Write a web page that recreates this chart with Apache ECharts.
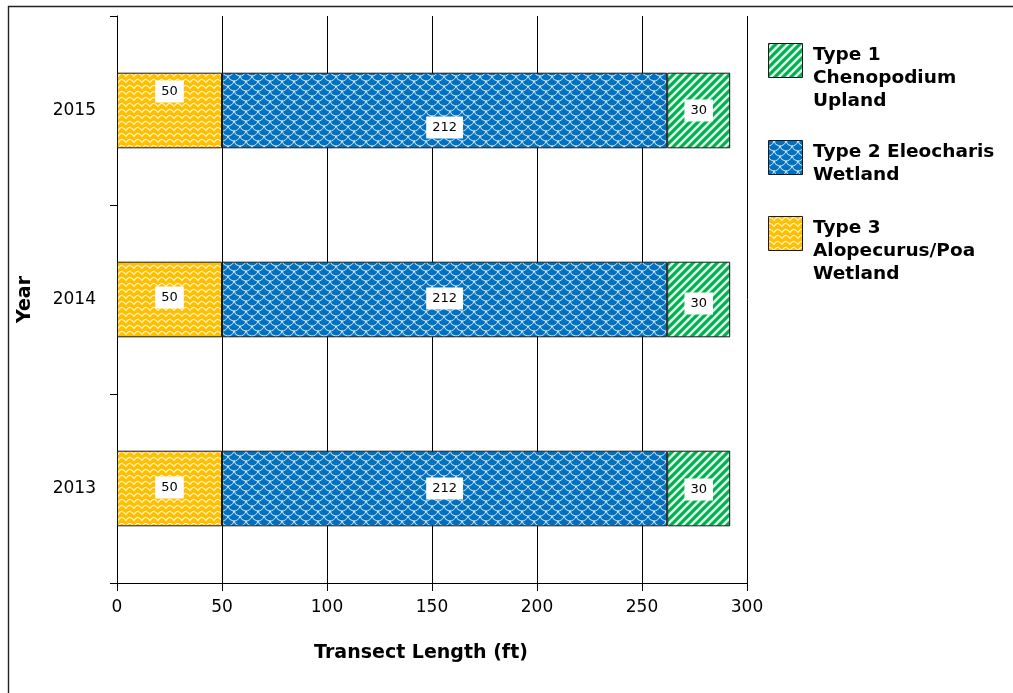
<!DOCTYPE html>
<html>
<head>
<meta charset="utf-8">
<script src="https://cdn.jsdelivr.net/npm/echarts@6/dist/echarts.min.js"></script>
<style>
  html, body { margin: 0; padding: 0; background: #fff; }
  #chart { width: 1013px; height: 693px; }
</style>
</head>
<body>
<div id="chart"></div>
<script>
// ---- data ----
const years = ['2013', '2014', '2015'];
const type3Alopecurus = [50, 50, 50];
const type2Eleocharis = [212, 212, 212];
const type1Chenopodium = [30, 30, 30];
const seriesNames = ['Type 1 Chenopodium Upland', 'Type 2 Eleocharis Wetland', 'Type 3 Alopecurus/Poa Wetland'];
const legendLines = ['Type 1\nChenopodium\nUpland', 'Type 2 Eleocharis\nWetland', 'Type 3\nAlopecurus/Poa\nWetland'];
const xMin = 0, xMax = 300, xStep = 50;

// vertical label nudges (px) per year, kept apart from the values
const labelNudge = {
  t3: [-1, -2, -19],
  t2: [0, -1, 17],
  t1: [1, 4, 0]
};

const FONT = '"DejaVu Sans", "Liberation Sans", Arial, sans-serif';

// ---- fill textures ----
function makeTile(w, h, bg, draw) {
  const c = document.createElement('canvas');
  c.width = w; c.height = h;
  const g = c.getContext('2d');
  g.fillStyle = bg;
  g.fillRect(0, 0, w, h);
  g.strokeStyle = 'rgba(255,255,255,0.85)';
  draw(g, w, h);
  return { image: c, repeat: 'repeat' };
}

// yellow with white wavy lines
const wavyYellow = makeTile(8, 6, '#FFC000', (g) => {
  g.lineWidth = 1.2;
  g.lineJoin = 'round';
  g.beginPath();
  g.moveTo(-2, 4.5);
  g.quadraticCurveTo(0, 1.2, 2, 1.5);
  g.quadraticCurveTo(4, 1.8, 6, 4.5);
  g.quadraticCurveTo(8, 1.2, 10, 1.5);
  g.stroke();
});

// blue with white overlapping scales
const scalesBlue = makeTile(12, 10, '#0070C0', (g) => {
  g.lineWidth = 1;
  const cells = [[0, 0], [12, 0], [6, 5], [6, -5], [0, 10], [12, 10]];
  cells.forEach(([cx, cy]) => {
    g.beginPath();
    g.arc(cx, cy, 6, 0.15, Math.PI - 0.15);
    g.stroke();
  });
});

// green with white diagonal stripes
const stripesGreen = makeTile(8, 8, '#00B050', (g) => {
  g.lineWidth = 2.6;
  g.beginPath();
  g.moveTo(-1, 1); g.lineTo(1, -1);
  g.moveTo(0, 8); g.lineTo(8, 0);
  g.moveTo(7, 9); g.lineTo(9, 7);
  g.stroke();
});

const fills = [stripesGreen, scalesBlue, wavyYellow];

function withNudge(values, nudge) {
  return values.map((v, i) => ({ value: v, label: { offset: [0, nudge[i]] } }));
}

const barLabel = {
  show: true,
  position: 'inside',
  color: '#000',
  fontFamily: FONT,
  fontSize: 13,
  backgroundColor: '#fff',
  padding: [5, 6, 4, 6]
};

function barSeries(name, values, nudge, fill) {
  return {
    name: name,
    type: 'bar',
    stack: 'len',
    barWidth: '40%',
    data: withNudge(values, nudge),
    itemStyle: { color: fill, borderColor: '#1a1a1a', borderWidth: 1 },
    label: barLabel,
    emphasis: { disabled: true }
  };
}

// legend blocks drawn on the right
const legendTops = [43, 140, 216];
const legendGraphics = [];
legendLines.forEach((txt, i) => {
  legendGraphics.push({
    type: 'rect',
    shape: { x: 768.5, y: legendTops[i] + 0.5, width: 34, height: 34 },
    style: { fill: fills[i], stroke: '#1a1a1a', lineWidth: 1 }
  });
  legendGraphics.push({
    type: 'text',
    style: {
      x: 813, y: legendTops[i] + 1,
      text: txt,
      font: 'bold 18.5px ' + FONT,
      lineHeight: 23,
      fill: '#000',
      verticalAlign: 'top'
    }
  });
});

// frame around the chart
legendGraphics.push({
  type: 'polyline',
  shape: { points: [[8.5, 693], [8.5, 6.5], [1013, 6.5]] },
  style: { stroke: '#222', lineWidth: 1.4, fill: null }
});

const chart = echarts.init(document.getElementById('chart'), null, { renderer: 'canvas' });
chart.setOption({
  animation: false,
  backgroundColor: '#fff',
  textStyle: { fontFamily: FONT },
  grid: { left: 117, right: 266, top: 16, bottom: 110, containLabel: false },
  xAxis: {
    type: 'value',
    min: xMin, max: xMax, interval: xStep,
    name: 'Transect Length (ft)',
    nameLocation: 'middle',
    nameGap: 61,
    nameTextStyle: { fontFamily: FONT, fontWeight: 'bold', fontSize: 19, color: '#000', padding: [0, 22, 0, 0] },
    axisLine: { show: true, lineStyle: { color: '#000', width: 1 } },
    axisTick: { show: true, length: 8, lineStyle: { color: '#000' } },
    axisLabel: { color: '#000', fontSize: 17, fontFamily: FONT, margin: 16 },
    splitLine: { show: true, lineStyle: { color: '#000', width: 1 } }
  },
  yAxis: {
    type: 'category',
    data: years,
    name: 'Year',
    nameLocation: 'middle',
    nameGap: 82,
    nameTextStyle: { fontFamily: FONT, fontWeight: 'bold', fontSize: 19, color: '#000' },
    axisLine: { show: true, lineStyle: { color: '#000', width: 1 } },
    axisTick: { show: true, length: 7, lineStyle: { color: '#000' } },
    axisLabel: { color: '#000', fontSize: 17, fontFamily: FONT, margin: 21 },
    splitLine: { show: false }
  },
  series: [
    barSeries(seriesNames[2], type3Alopecurus, labelNudge.t3, wavyYellow),
    barSeries(seriesNames[1], type2Eleocharis, labelNudge.t2, scalesBlue),
    barSeries(seriesNames[0], type1Chenopodium, labelNudge.t1, stripesGreen)
  ],
  graphic: legendGraphics
});
</script>
</body>
</html>
